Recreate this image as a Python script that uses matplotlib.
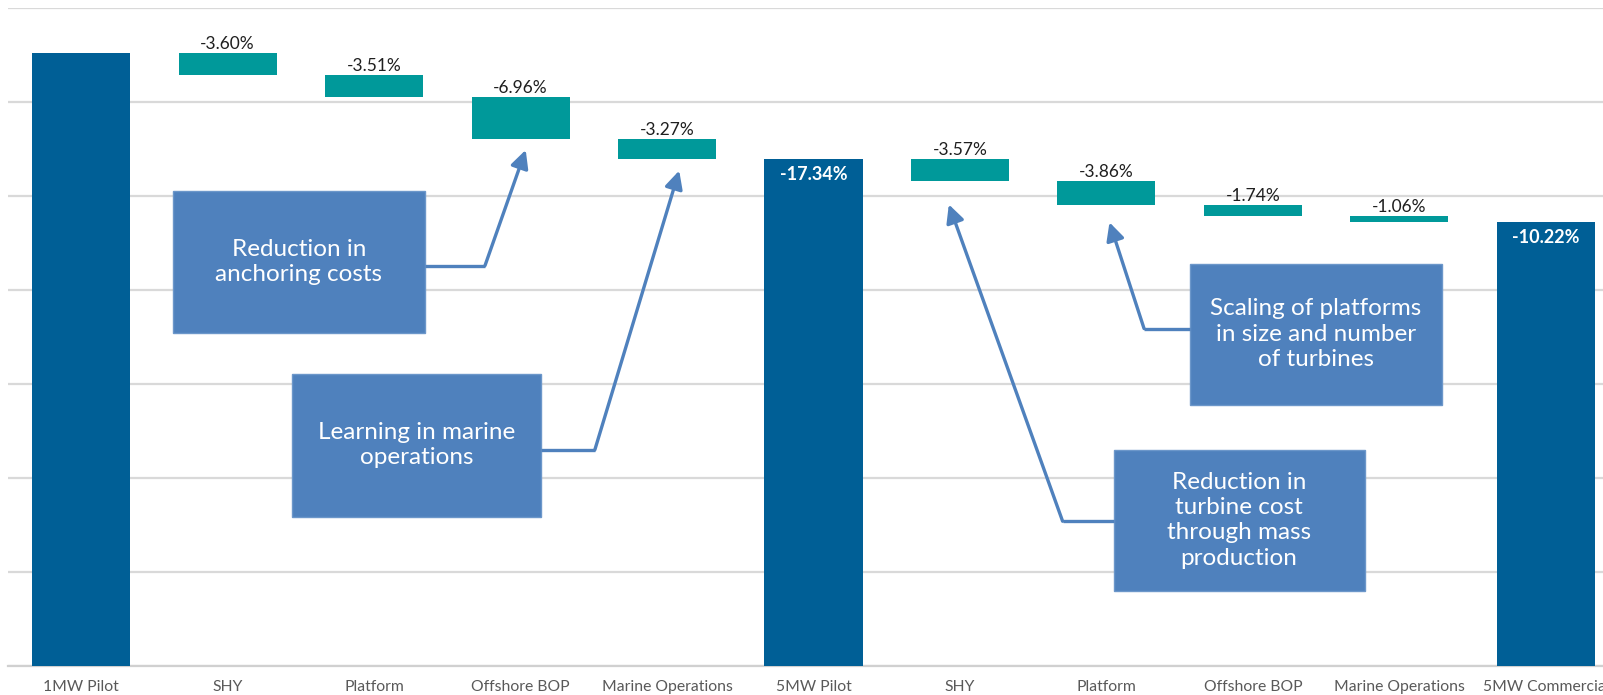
import matplotlib.pyplot as plt
from matplotlib.patches import Rectangle

plt.rcParams['font.family'] = ['Lato', 'DejaVu Sans']

# Cost steps from the 1MW pilot to the 5MW commercial park
categories = ['1MW Pilot', 'SHY', 'Platform', 'Offshore BOP', 'Marine Operations',
              '5MW Pilot', 'SHY', 'Platform', 'Offshore BOP', 'Marine Operations',
              '5MW Commercial']
step_pct = [-3.60, -3.51, -6.96, -3.27, -3.57, -3.86, -1.74, -1.06]
total_pct = [-17.34, -10.22]
start_cost = 652
total_idx = [0, 5, 10]

dark_blue = '#005F96'
teal = '#00999A'
box_blue = '#4F81BD'

fig = plt.figure(figsize=(16.03, 6.95), dpi=100)
ax = fig.add_axes([8 / 1603, 29 / 695, 1611 / 1603, 658 / 695])

# waterfall: totals from zero, steps hanging from the running level
level = start_cost
ax.bar(0, start_cost, width=0.67, color=dark_blue, zorder=3)
steps = iter(step_pct)
totals = iter(total_pct)
for i in range(1, len(categories)):
    if i in total_idx:
        pct = next(totals)
        ax.bar(i, level, width=0.67, color=dark_blue, zorder=3)
        ax.text(i, level - 7, f'{pct:.2f}%', ha='center', va='top',
                color='white', fontsize=13, fontweight='bold', zorder=4)
    else:
        pct = next(steps)
        delta = start_cost * pct / 100
        ax.bar(i, -delta, bottom=level + delta, width=0.67, color=teal, zorder=3)
        ax.text(i, level + 1, f'{pct:.2f}%', ha='center', va='bottom',
                color='#1F1F1F', fontsize=12.5, zorder=4)
        level += delta

ax.set_xlim(-0.5, 10.5)
ax.set_ylim(0, 700)
ax.set_yticks(range(0, 701, 100))
ax.set_yticklabels([])
ax.yaxis.grid(True, color='#D9D9D9', lw=1.6, zorder=0)
ax.set_axisbelow(True)
ax.set_xticks(range(len(categories)))
ax.set_xticklabels(categories, fontsize=11.3, color='#595959')
ax.tick_params(length=0, pad=10)
for s in ['left', 'top', 'right']:
    ax.spines[s].set_visible(False)
ax.spines['bottom'].set_color('#D0D0D0')
ax.spines['bottom'].set_linewidth(1.6)

# callout boxes: (x0, y0, width, height, text, elbow start, elbow, arrow tip)
callouts = [
    (0.625, 354, 1.72, 151, 'Reduction in\nanchoring costs',
     (2.347, 426), (2.757, 426), (3.035, 549)),
    (1.44, 159, 1.70, 152, 'Learning in marine\noperations',
     (3.139, 230), (3.507, 230), (4.083, 527)),
    (7.569, 278, 1.72, 150, 'Scaling of platforms\nin size and number\nof turbines',
     (7.569, 359), (7.257, 359), (7.021, 472)),
    (7.049, 80, 1.715, 150, 'Reduction in\nturbine cost\nthrough mass\nproduction',
     (7.049, 154), (6.701, 154), (5.924, 491)),
]
for x0, y0, w, h, txt, p0, p1, tip in callouts:
    ax.add_patch(Rectangle((x0, y0), w, h, facecolor=box_blue,
                           edgecolor='#6C97CA', lw=1, zorder=5))
    ax.text(x0 + w / 2, y0 + h / 2, txt, ha='center', va='center', color='white',
            fontsize=17.5, linespacing=1.25, zorder=6)
    ax.plot([p0[0], p1[0]], [p0[1], p1[1]], color=box_blue, lw=2.4, zorder=5,
            solid_capstyle='butt')
    ax.annotate('', xy=tip, xytext=p1,
                arrowprops=dict(arrowstyle='-|>', color=box_blue, lw=2.4,
                                mutation_scale=27, shrinkA=0, shrinkB=0),
                zorder=5)

fig.savefig('out.png', dpi=100)
